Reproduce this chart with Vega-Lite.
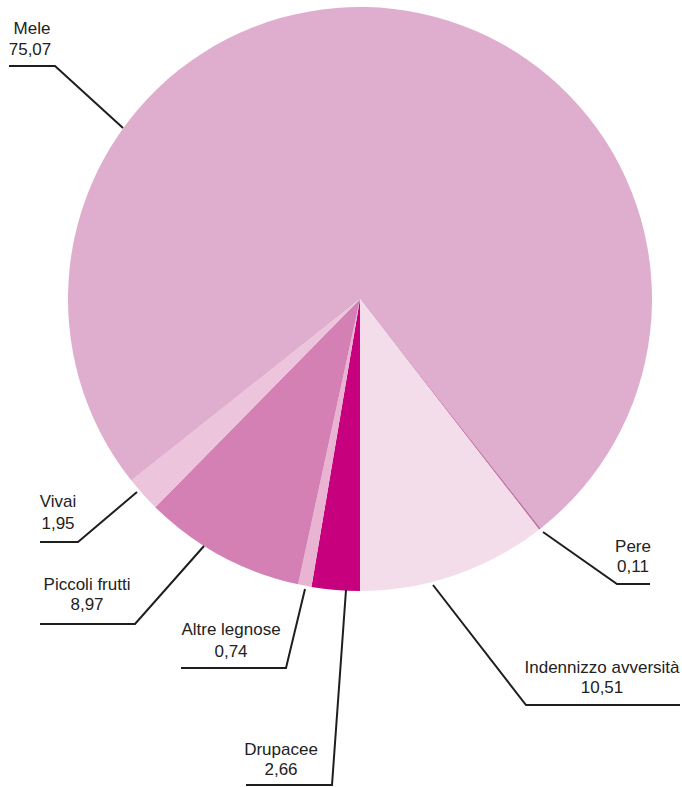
{
  "$schema": "https://vega.github.io/schema/vega-lite/v6.json",
  "width": 682,
  "height": 787,
  "padding": 0,
  "autosize": {"type": "none"},
  "background": "white",
  "config": {"view": {"stroke": null}},
  "datasets": {
    "pie": [
      {"cat": "Drupacee", "val": 2.66, "ord": 1},
      {"cat": "Altre legnose", "val": 0.74, "ord": 2},
      {"cat": "Piccoli frutti", "val": 8.97, "ord": 3},
      {"cat": "Vivai", "val": 1.95, "ord": 4},
      {"cat": "Mele", "val": 75.07, "ord": 5},
      {"cat": "Pere", "val": 0.11, "ord": 6},
      {"cat": "Indennizzo avversità", "val": 10.51, "ord": 7}
    ],
    "leaders": [
      {"cat": "Mele", "i": 1, "x": 9, "y": 66},
      {"cat": "Mele", "i": 2, "x": 55, "y": 66},
      {"cat": "Mele", "i": 3, "x": 123, "y": 128},
      {"cat": "Vivai", "i": 1, "x": 40, "y": 542},
      {"cat": "Vivai", "i": 2, "x": 78, "y": 542},
      {"cat": "Vivai", "i": 3, "x": 137, "y": 492},
      {"cat": "Piccoli frutti", "i": 1, "x": 40, "y": 624},
      {"cat": "Piccoli frutti", "i": 2, "x": 135, "y": 624},
      {"cat": "Piccoli frutti", "i": 3, "x": 204, "y": 546},
      {"cat": "Altre legnose", "i": 1, "x": 181, "y": 668},
      {"cat": "Altre legnose", "i": 2, "x": 286, "y": 668},
      {"cat": "Altre legnose", "i": 3, "x": 305, "y": 589},
      {"cat": "Drupacee", "i": 1, "x": 246, "y": 785},
      {"cat": "Drupacee", "i": 2, "x": 332, "y": 785},
      {"cat": "Drupacee", "i": 3, "x": 346, "y": 590},
      {"cat": "Pere", "i": 1, "x": 650, "y": 584},
      {"cat": "Pere", "i": 2, "x": 617, "y": 584},
      {"cat": "Pere", "i": 3, "x": 543, "y": 532},
      {"cat": "Indennizzo avversità", "i": 1, "x": 680, "y": 705},
      {"cat": "Indennizzo avversità", "i": 2, "x": 526, "y": 705},
      {"cat": "Indennizzo avversità", "i": 3, "x": 433, "y": 585}
    ],
    "labels": [
      {"t": "Mele", "x": 32, "y": 34},
      {"t": "75,07", "x": 30, "y": 55},
      {"t": "Vivai", "x": 58, "y": 507},
      {"t": "1,95", "x": 58, "y": 529},
      {"t": "Piccoli frutti", "x": 87, "y": 590},
      {"t": "8,97", "x": 87, "y": 610},
      {"t": "Altre legnose", "x": 231, "y": 635},
      {"t": "0,74", "x": 231, "y": 657},
      {"t": "Drupacee", "x": 281, "y": 755},
      {"t": "2,66", "x": 281, "y": 775},
      {"t": "Pere", "x": 633, "y": 552},
      {"t": "0,11", "x": 633, "y": 572},
      {"t": "Indennizzo avversità", "x": 602, "y": 673},
      {"t": "10,51", "x": 602, "y": 693}
    ]
  },
  "layer": [
    {
      "data": {"name": "pie"},
      "mark": {"type": "arc", "outerRadius": 292, "stroke": null},
      "encoding": {
        "x": {"datum": 360, "type": "quantitative", "scale": {"domain": [0, 682], "nice": false, "zero": false}, "axis": null},
        "y": {"datum": 299, "type": "quantitative", "scale": {"domain": [0, 787], "nice": false, "zero": false, "reverse": true}, "axis": null},
        "theta": {"field": "val", "type": "quantitative", "stack": true, "scale": {"range": [3.14159265, 9.42477796]}},
        "order": {"field": "ord", "type": "quantitative"},
        "color": {
          "field": "cat",
          "type": "nominal",
          "legend": null,
          "scale": {
            "domain": ["Drupacee", "Altre legnose", "Piccoli frutti", "Vivai", "Mele", "Pere", "Indennizzo avversità"],
            "range": ["#C7007E", "#E8B4D2", "#D480B5", "#ECC5DC", "#DFADCD", "#C373A8", "#F3DDEB"]
          }
        }
      }
    },
    {
      "data": {"name": "leaders"},
      "mark": {"type": "line", "color": "#1e1e1e", "strokeWidth": 2},
      "encoding": {
        "x": {"field": "x", "type": "quantitative", "axis": null},
        "y": {"field": "y", "type": "quantitative", "axis": null},
        "detail": {"field": "cat"},
        "order": {"field": "i", "type": "quantitative"}
      }
    },
    {
      "data": {"name": "labels"},
      "mark": {"type": "text", "font": "Liberation Sans", "fontSize": 17, "color": "#222222", "align": "center", "baseline": "alphabetic"},
      "encoding": {
        "x": {"field": "x", "type": "quantitative", "axis": null},
        "y": {"field": "y", "type": "quantitative", "axis": null},
        "text": {"field": "t"}
      }
    }
  ]
}
